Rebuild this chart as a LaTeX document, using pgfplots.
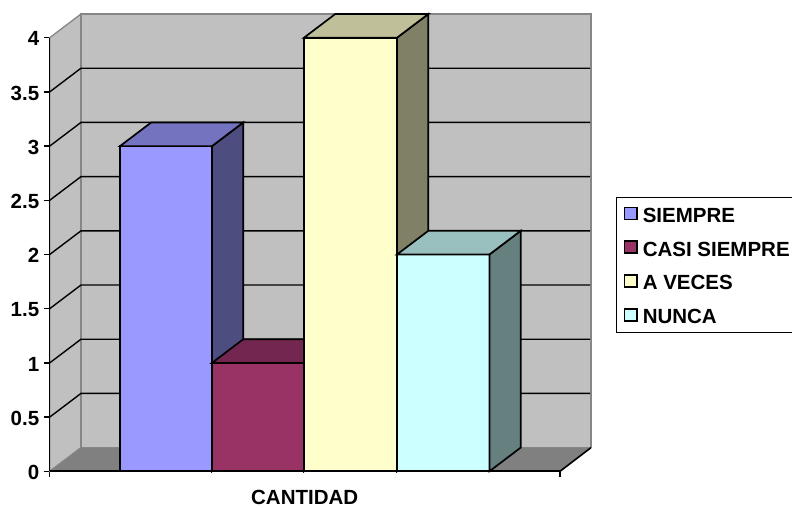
\documentclass[border=0pt]{standalone}
\usepackage{fontspec}
\setmainfont{Liberation Sans}
\usepackage{pgfplots}
\pgfplotsset{compat=1.18}
\definecolor{wallc}{HTML}{C0C0C0}
\definecolor{floorc}{HTML}{808080}
\definecolor{edgec}{HTML}{868686}
\definecolor{frA}{HTML}{9999FF}\definecolor{topA}{HTML}{7373BF}\definecolor{sideA}{HTML}{4D4D80}
\definecolor{frB}{HTML}{993366}\definecolor{topB}{HTML}{732650}\definecolor{sideB}{HTML}{4D1A33}
\definecolor{frC}{HTML}{FFFFCC}\definecolor{topC}{HTML}{BFBF99}\definecolor{sideC}{HTML}{808066}
\definecolor{frD}{HTML}{CCFFFF}\definecolor{topD}{HTML}{99BFBF}\definecolor{sideD}{HTML}{668080}
\pgfplotsset{
  gl/.style={black,line width=1.4pt,forget plot},
  face/.style={draw=black,line width=1.7pt,line join=miter,forget plot},
  swatch/.style={legend image code/.code={\draw[draw=black,line width=1.5pt,fill=##1] (0pt,-6pt) rectangle (12.5pt,6pt);\path[draw=none,fill=none] (0pt,-6pt) rectangle (18.2pt,6pt);}},
}
\begin{document}
\begin{tikzpicture}
\path[use as bounding box] (-49.7pt,-35.7pt) rectangle (742.3pt,471.3pt);
\begin{axis}[
  at={(0pt,0pt)},anchor=origin,
  scale only axis,width=541.3pt,height=457.3pt,
  xmin=0,xmax=541.3,ymin=0,ymax=4.2186,
  clip=false,
  axis line style={draw=none},
  tick align=outside,xtick pos=lower,ytick pos=left,
  major tick length=6pt,
  every tick/.style={black,line width=1.4pt},
  ytick={0,0.5,1,1.5,2,2.5,3,3.5,4},
  yticklabels={0,0.5,1,1.5,2,2.5,3,3.5,4},
  xtick={0,510.3},xticklabels={},
  extra x ticks={255},extra x tick labels={CANTIDAD},
  extra x tick style={major tick length=0pt,xticklabel style={yshift=-15pt}},
  tick label style={font=\fontsize{20.5}{24}\bfseries},
  yticklabel style={xshift=-1pt,yshift=-1.2pt},
  legend style={
    at={(1.0455,0.5998)},anchor=north west,
    draw=black,line width=1.4pt,fill=white,
    inner xsep=7.5pt,inner ysep=8.8pt,
    font=\fontsize{20.5}{24}\bfseries,
    row sep=18.3pt,
    nodes={inner sep=0pt,text height=14.5pt,text depth=0pt,anchor=west,yshift=-1.6pt},
  },
  legend cell align=left,
]
% walls and floor
\addplot[fill=wallc,draw=edgec,line width=1.3pt,forget plot] coordinates {(0,0)(31.3,0.2186)(31.3,4.2186)(0,4)} -- cycle;
\addplot[fill=wallc,draw=edgec,line width=1.6pt,forget plot] coordinates {(31.3,0.2186)(541.3,0.2186)(541.3,4.2186)(31.3,4.2186)} -- cycle;
\addplot[fill=floorc,draw=edgec,line width=0.8pt,forget plot] coordinates {(0,0)(31.3,0.2186)(541.3,0.2186)(510.3,0)} -- cycle;
\addplot[black,line width=1.6pt,forget plot] coordinates {(510.3,0)(541.3,0.2186)};
% gridlines
\addplot[gl] coordinates {(0,0.5)(31.3,0.7186)(540.3,0.7186)};
\addplot[gl] coordinates {(0,1)(31.3,1.2186)(540.3,1.2186)};
\addplot[gl] coordinates {(0,1.5)(31.3,1.7186)(540.3,1.7186)};
\addplot[gl] coordinates {(0,2)(31.3,2.2186)(540.3,2.2186)};
\addplot[gl] coordinates {(0,2.5)(31.3,2.7186)(540.3,2.7186)};
\addplot[gl] coordinates {(0,3)(31.3,3.2186)(540.3,3.2186)};
\addplot[gl] coordinates {(0,3.5)(31.3,3.7186)(540.3,3.7186)};
% SIEMPRE = 3
\addplot[face,ybar,bar shift=0pt,bar width=92pt,fill=frA] coordinates {(116.3,3)};
\addplot[face,fill=sideA] coordinates {(162.3,0)(193.6,0.2186)(193.6,3.2186)(162.3,3)} -- cycle;
\addplot[face,fill=topA] coordinates {(70.3,3)(101.6,3.2186)(193.6,3.2186)(162.3,3)} -- cycle;
% CASI SIEMPRE = 1
\addplot[face,ybar,bar shift=0pt,bar width=92pt,fill=frB] coordinates {(208.3,1)};
\addplot[face,fill=sideB] coordinates {(254.3,0)(285.6,0.2186)(285.6,1.2186)(254.3,1)} -- cycle;
\addplot[face,fill=topB] coordinates {(162.3,1)(193.6,1.2186)(285.6,1.2186)(254.3,1)} -- cycle;
% A VECES = 4
\addplot[face,ybar,bar shift=0pt,bar width=93pt,fill=frC] coordinates {(300.8,4)};
\addplot[face,fill=sideC] coordinates {(347.3,0)(378.6,0.2186)(378.6,4.2186)(347.3,4)} -- cycle;
\addplot[face,fill=topC] coordinates {(254.3,4)(285.6,4.2186)(378.6,4.2186)(347.3,4)} -- cycle;
% NUNCA = 2
\addplot[face,ybar,bar shift=0pt,bar width=92.4pt,fill=frD] coordinates {(393.5,2)};
\addplot[face,fill=sideD] coordinates {(439.7,0)(471,0.2186)(471,2.2186)(439.7,2)} -- cycle;
\addplot[face,fill=topD] coordinates {(347.3,2)(378.6,2.2186)(471,2.2186)(439.7,2)} -- cycle;
% front axis lines
\addplot[black,line width=2pt,forget plot] coordinates {(0,0)(510.3,0)};
\addplot[black,line width=1.5pt,forget plot] coordinates {(0,0)(0,4)};
% legend
\addlegendimage{swatch,frA}\addlegendentry{SIEMPRE}
\addlegendimage{swatch,frB}\addlegendentry{CASI SIEMPRE}
\addlegendimage{swatch,frC}\addlegendentry{A VECES}
\addlegendimage{swatch,frD}\addlegendentry{NUNCA}
\end{axis}
\end{tikzpicture}
\end{document}
